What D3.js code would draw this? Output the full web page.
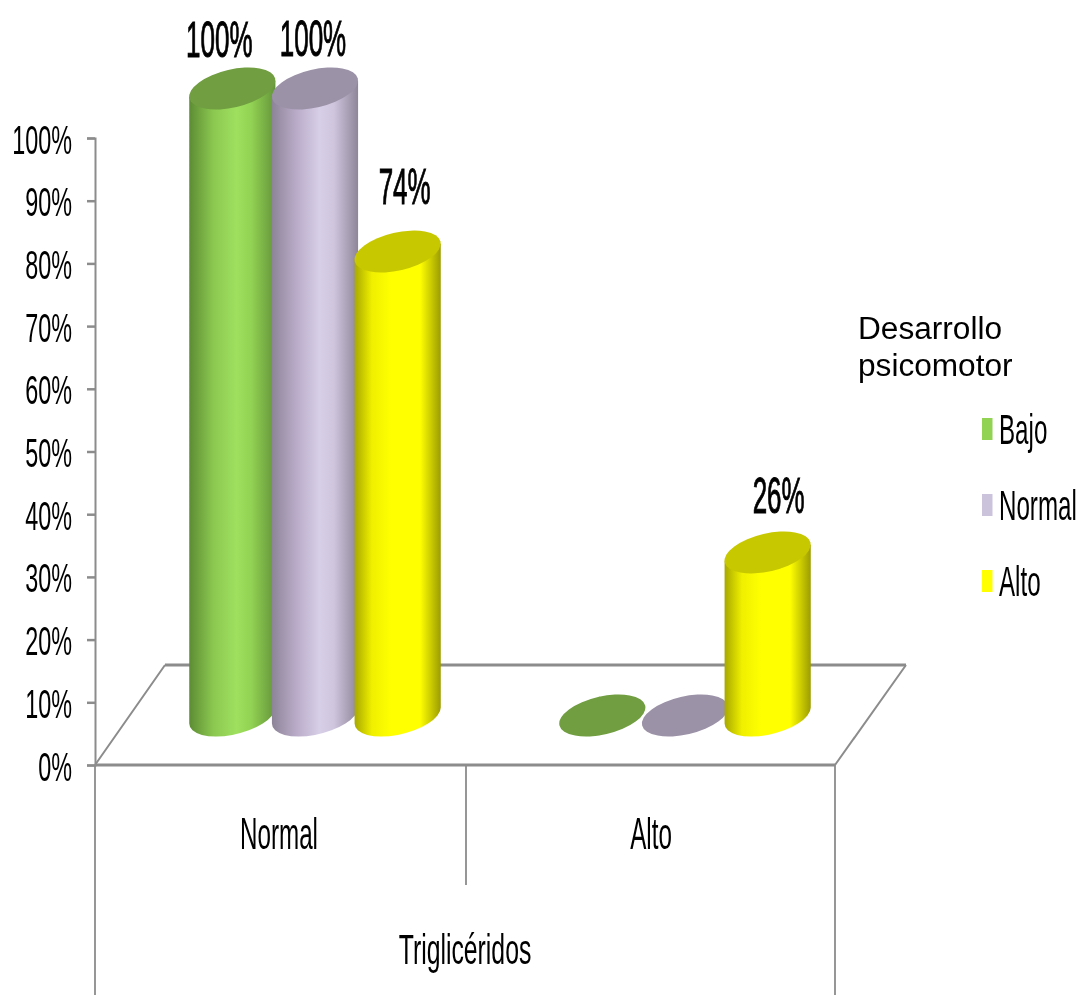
<!DOCTYPE html>
<html lang="es">
<head>
<meta charset="utf-8">
<style>
html,body{margin:0;padding:0;background:#fff;overflow:hidden}
svg{display:block}
text{font-family:"Liberation Sans",Arial,sans-serif;fill:#000}
</style>
<script src="https://cdn.jsdelivr.net/npm/d3@7/dist/d3.min.js"></script>
</head>
<body>
<svg id="chart" width="1082" height="995"></svg>
<script>
// ---------- data ----------
const categories = ["Normal", "Alto"];
const seriesNames = ["Bajo", "Normal", "Alto"];
const bajoValues = [100, 0];
const normalValues = [100, 0];
const altoValues = [74, 26];
const valueTicks = [0, 10, 20, 30, 40, 50, 60, 70, 80, 90, 100];
const axisTitle = "Triglicéridos";
const legendTitle = ["Desarrollo", "psicomotor"];
const sideColors = [
  ["#5d8c33", "#8bc850", "#9fe05f", "#92d253", "#64943a"],
  ["#8d8498", "#b9abc8", "#d7cee7", "#cfc6de", "#8e8599"],
  ["#a8a800", "#efef00", "#ffff00", "#ffff00", "#9c9c00"]
];
const capColors = ["#6f9e3f", "#9c92a8", "#c8c800"];
const legendColors = ["#92d353", "#cbc3dc", "#ffff00"];

// ---------- layout ----------
const svg = d3.select("#chart");
const gray = "#8c8c8c";
const y = d3.scaleLinear().domain([0, 100]).range([765, 138]);
const x = d3.scaleBand().domain(categories).range([95, 835]);
const inner = d3.scaleBand().domain(d3.range(3)).range([-124, 124]);
const depth = {dx: 70, dy: -100};
const rx = 44, ry = 19, phiDeg = -13;
const phi = phiDeg * Math.PI / 180;

// squeezed text helper: reference text is horizontally condensed
function label(g, str, px, py, size, sx, anchor, heavy) {
  const t = g.append("text")
    .attr("transform", `translate(${px},${py}) scale(${sx},1)`)
    .attr("text-anchor", anchor || "middle")
    .attr("font-size", size)
    .text(str);
  if (heavy) t.attr("stroke", "#000").attr("stroke-width", heavy);
  return t;
}

const defs = svg.append("defs");
const soft = defs.append("filter").attr("id", "soft")
  .attr("x", "-5%").attr("y", "-5%").attr("width", "110%").attr("height", "110%");
soft.append("feGaussianBlur").attr("stdDeviation", 0.55);
sideColors.forEach((cols, i) => {
  const gr = defs.append("linearGradient").attr("id", "side" + i);
  const offs = i === 2 ? [0, 0.2, 0.42, 0.76, 1] : [0, 0.28, 0.55, 0.72, 1];
  cols.forEach((c, j) => gr.append("stop").attr("offset", offs[j]).attr("stop-color", c));
});

const root = svg.append("g").attr("filter", "url(#soft)");

// ---------- floor and frame ----------
const frame = root.append("g").attr("fill", "none").attr("stroke", gray);
const x0 = x.range()[0], x1 = x.range()[1], y0 = y(0);
frame.append("path").attr("stroke-width", 2.8)
  .attr("d", `M${x0 + depth.dx},${y0 + depth.dy}H${x1 + depth.dx + 1}`);
frame.append("path").attr("stroke-width", 2)
  .attr("d", `M${x0},${y0}L${x0 + depth.dx},${y0 + depth.dy}M${x1},${y0}L${x1 + depth.dx + 1},${y0 + depth.dy}`);
frame.append("path").attr("stroke-width", 2.8).attr("d", `M${x0},${y0}H${x1}`);
frame.append("path").attr("stroke-width", 1.8)
  .attr("d", `M${x0},${y0}V995M${x1},${y0}V995M${x.step() + x0 + 1},${y0}V885`);

// ---------- value axis ----------
const axis = root.append("g").attr("transform", `translate(${x0},0)`)
  .call(d3.axisLeft(y).tickValues(valueTicks).tickSize(8).tickFormat(d => d + "%"));
axis.select(".domain").attr("stroke", gray).attr("stroke-width", 2);
axis.selectAll(".tick line").attr("stroke", gray).attr("stroke-width", 2.5);
axis.selectAll(".tick text").remove();
valueTicks.forEach(t => label(root, t + "%", 72, y(t) + 15.5, 40, 0.585, "end"));

// ---------- cylinders ----------
function tangents() {
  const t = Math.atan2(-ry * Math.sin(phi), rx * Math.cos(phi));
  const px = rx * Math.cos(t) * Math.cos(phi) - ry * Math.sin(t) * Math.sin(phi);
  const py = rx * Math.cos(t) * Math.sin(phi) + ry * Math.sin(t) * Math.cos(phi);
  return {px, py};
}
const tg = tangents();
const seriesValues = [bajoValues, normalValues, altoValues];
const bars = root.append("g");
const labelNudge = {"0-0": [-13, 32], "1-0": [-2, 33], "2-0": [7, 48], "2-1": [11, 39]};

seriesValues.forEach((vals, s) => {
  vals.forEach((v, c) => {
    const cx = x(categories[c]) + x.bandwidth() / 2 + inner(s) + inner.bandwidth() / 2 + depth.dx / 2;
    const by = y(0) + depth.dy / 2 + 0.5;
    const ty = by - (y(0) - y(v));
    const g = bars.append("g");
    if (v > 0) {
      g.append("path")
        .attr("fill", `url(#side${s})`)
        .attr("d", `M${cx + tg.px},${ty + tg.py}L${cx + tg.px},${by + tg.py}` +
          `A${rx},${ry} ${phiDeg} 0 1 ${cx - tg.px},${by - tg.py}` +
          `L${cx - tg.px},${ty - tg.py}Z`);
    }
    g.append("ellipse")
      .attr("transform", `translate(${cx},${ty}) rotate(${phiDeg})`)
      .attr("rx", rx).attr("ry", ry).attr("fill", capColors[s]);
    if (v > 0) {
      const n = labelNudge[s + "-" + c];
      label(root, v + "%", cx + n[0], ty - n[1], 50, 0.52, "middle", 1);
    }
  });
});

// ---------- category labels ----------
categories.forEach(c => label(root, c, x(c) + x.bandwidth() / 2 + (c === "Alto" ? 1 : -1), 849, 44, 0.55));
label(root, axisTitle, 465, 964, 42, 0.59);

// ---------- legend ----------
legendTitle.forEach((t, i) => label(root, t, 858, 339 + i * 37, 31, 1.02, "start"));
const legendY = d3.scalePoint().domain(seriesNames).range([429, 581]);
seriesNames.forEach((n, i) => {
  const cy = legendY(n);
  root.append("rect").attr("x", 982).attr("y", cy - 11).attr("width", 10.5).attr("height", 22)
    .attr("fill", legendColors[i]);
  label(root, n, 999, cy + 15, 42, 0.575, "start");
});
</script>
</body>
</html>
